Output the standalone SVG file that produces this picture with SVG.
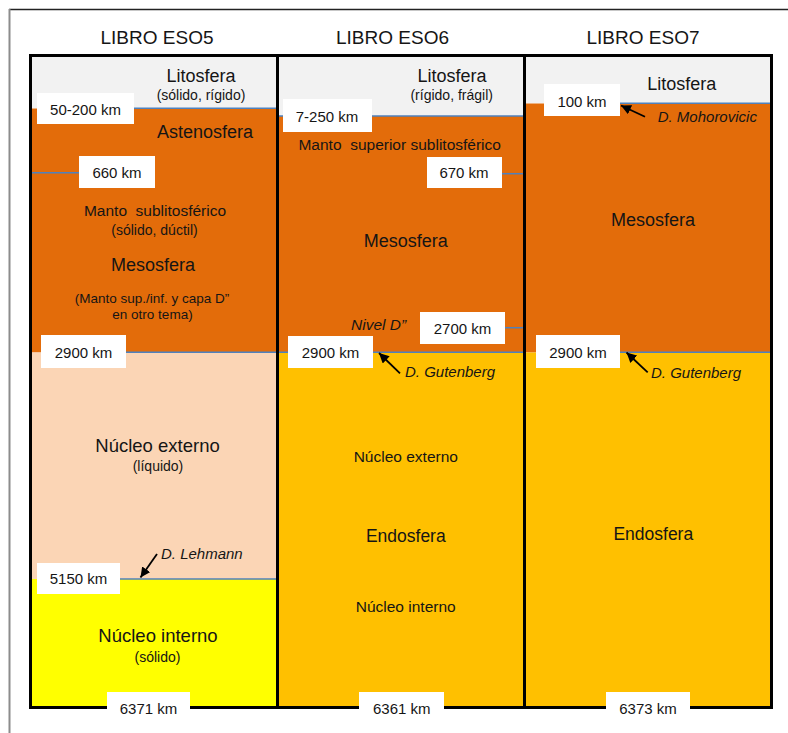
<svg xmlns="http://www.w3.org/2000/svg" width="788" height="733" viewBox="0 0 788 733">
<style>
text{font-family:"Liberation Sans",Arial,sans-serif;fill:#151515;text-anchor:middle}
.h{font-size:19px}
.big{font-size:18px}
.mid{font-size:15.5px}
.sm{font-size:14px}
.xs{font-size:13.5px}
.km{font-size:15px}
.it{font-style:italic;font-size:15px;text-anchor:start}
.grey{fill:#f2f2f2}
.orange{fill:#e36c0a}
.peach{fill:#fbd5b5}
.yellow{fill:#ffff00}
.gold{fill:#ffc000}
.box{fill:#ffffff}
.blue{stroke:#4f81bd;stroke-width:1.5;fill:none}
.arrow{stroke:#000;stroke-width:1.8;fill:none;marker-end:url(#ah)}
.frame{stroke:#000;stroke-width:3;fill:none}
</style>
<defs>
<marker id="ah" markerUnits="userSpaceOnUse" markerWidth="12" markerHeight="10" refX="10" refY="5" orient="auto">
<path d="M0,0 L10,5 L0,10 Z" fill="#000"/>
</marker>
</defs>
<rect width="788" height="733" fill="#ffffff"/>
<line x1="9" y1="9.5" x2="788" y2="9.5" stroke="#222" stroke-width="1.5"/>
<line x1="9.5" y1="9" x2="9.5" y2="733" stroke="#8c8c8c" stroke-width="2"/>

<g id="headers">
<text class="h" x="157" y="44.3">LIBRO ESO5</text>
<text class="h" x="392.5" y="44.3">LIBRO ESO6</text>
<text class="h" x="643" y="44.3">LIBRO ESO7</text>
</g>

<g id="eso5-layers">
<rect class="grey" x="32" y="57" width="245" height="51.5"/>
<rect class="orange" x="32" y="108.5" width="245" height="244"/>
<rect class="peach" x="32" y="352.5" width="245" height="226.5"/>
<rect class="yellow" x="32" y="579" width="245" height="128"/>
</g>
<g id="eso6-layers">
<rect class="grey" x="278" y="57" width="246" height="59"/>
<rect class="orange" x="278" y="116" width="246" height="236.5"/>
<rect class="gold" x="278" y="352.5" width="246" height="354.5"/>
</g>
<g id="eso7-layers">
<rect class="grey" x="525" y="57" width="246" height="46.5"/>
<rect class="orange" x="525" y="103.5" width="246" height="249"/>
<rect class="gold" x="525" y="352.5" width="246" height="354.5"/>
</g>

<g id="boundaries">
<line class="blue" x1="134" y1="108.3" x2="276" y2="108.3"/>
<line class="blue" x1="32" y1="172.7" x2="79" y2="172.7"/>
<line class="blue" x1="126" y1="352.3" x2="276" y2="352.3"/>
<line class="blue" x1="120" y1="579" x2="276" y2="579"/>
<line class="blue" x1="279" y1="116" x2="523" y2="116"/>
<line class="blue" x1="502" y1="173.7" x2="523" y2="173.7"/>
<line class="blue" x1="505" y1="327.7" x2="523" y2="327.7"/>
<line class="blue" x1="279" y1="352.3" x2="523" y2="352.3"/>
<line class="blue" x1="620" y1="103.3" x2="770" y2="103.3"/>
<line class="blue" x1="620" y1="352.3" x2="770" y2="352.3"/>
</g>

<g id="frame">
<rect class="frame" x="30.5" y="55.5" width="741" height="652"/>
<line class="frame" x1="277.5" y1="55.5" x2="277.5" y2="707.5"/>
<line class="frame" x1="524.5" y1="55.5" x2="524.5" y2="707.5"/>
</g>

<g id="eso5-texts">
<text class="big" x="201" y="82">Litosfera</text>
<text class="sm" x="201" y="100">(sólido, rígido)</text>
<text class="big" x="205" y="138.3">Astenosfera</text>
<text class="mid" x="155" y="216" xml:space="preserve">Manto  sublitosférico</text>
<text class="sm" x="154.5" y="235">(sólido, dúctil)</text>
<text class="big" x="153" y="270.7">Mesosfera</text>
<text class="xs" x="152" y="303.3">(Manto sup./inf. y capa D”</text>
<text class="xs" x="152.5" y="319.3">en otro tema)</text>
<text class="big" x="157.5" y="451.7" style="font-size:18.5px">Núcleo externo</text>
<text class="sm" x="158" y="470.7">(líquido)</text>
<text class="it" x="161" y="559.3">D. Lehmann</text>
<text class="big" x="158" y="641.7" style="font-size:18.5px">Núcleo interno</text>
<text class="sm" x="157.5" y="661.7">(sólido)</text>
</g>

<g id="eso6-texts">
<text class="big" x="452" y="81.7">Litosfera</text>
<text class="sm" x="451.7" y="100">(rígido, frágil)</text>
<text class="mid" x="399.7" y="150" xml:space="preserve">Manto  superior sublitosférico</text>
<text class="big" x="405.7" y="246.7">Mesosfera</text>
<text class="it" x="351" y="330" style="font-size:15.5px">Nivel D”</text>
<text class="it" x="405" y="376.7">D. Gutenberg</text>
<text class="mid" x="405.8" y="461.7">Núcleo externo</text>
<text class="big" x="405.8" y="541.7" style="font-size:17.5px">Endosfera</text>
<text class="mid" x="405.7" y="611.7">Núcleo interno</text>
</g>

<g id="eso7-texts">
<text class="big" x="681.7" y="90">Litosfera</text>
<text class="it" x="657.7" y="121.7">D. Mohorovicic</text>
<text class="big" x="653" y="226">Mesosfera</text>
<text class="it" x="651" y="378.3">D. Gutenberg</text>
<text class="big" x="653.3" y="540" style="font-size:17.5px">Endosfera</text>
</g>

<g id="depth-labels">
<g id="l-50-200"><rect class="box" x="37" y="93" width="97" height="31"/><text class="km" x="85.5" y="114.5">50-200 km</text></g>
<g id="l-660"><rect class="box" x="79" y="156" width="76" height="32"/><text class="km" x="117" y="178">660 km</text></g>
<g id="l-2900-a"><rect class="box" x="41" y="335" width="85" height="33"/><text class="km" x="83.5" y="358">2900 km</text></g>
<g id="l-5150"><rect class="box" x="37" y="563" width="83" height="31"/><text class="km" x="78.5" y="584">5150 km</text></g>
<g id="l-6371"><rect class="box" x="107" y="692" width="83" height="28"/><text class="km" x="148.5" y="714">6371 km</text></g>
<g id="l-7-250"><rect class="box" x="283" y="99" width="89" height="33"/><text class="km" x="327" y="121.7">7-250 km</text></g>
<g id="l-670"><rect class="box" x="427" y="157" width="75" height="31"/><text class="km" x="464" y="178.3">670 km</text></g>
<g id="l-2700"><rect class="box" x="420" y="312" width="85" height="32"/><text class="km" x="462.5" y="333.5">2700 km</text></g>
<g id="l-2900-b"><rect class="box" x="288" y="336" width="85" height="32"/><text class="km" x="330.5" y="358">2900 km</text></g>
<g id="l-6361"><rect class="box" x="359" y="692" width="85" height="28"/><text class="km" x="401.8" y="714">6361 km</text></g>
<g id="l-100"><rect class="box" x="544" y="84" width="76" height="32"/><text class="km" x="582" y="106.7">100 km</text></g>
<g id="l-2900-c"><rect class="box" x="536" y="335" width="84" height="33"/><text class="km" x="578" y="358.3">2900 km</text></g>
<g id="l-6373"><rect class="box" x="606" y="692" width="84" height="28"/><text class="km" x="648" y="714">6373 km</text></g>
</g>

<g id="connectors">
<line class="arrow" x1="157" y1="554" x2="140.5" y2="577.5"/>
<line class="arrow" x1="400" y1="373.3" x2="379" y2="353"/>
<line class="arrow" x1="647.7" y1="372.3" x2="626.5" y2="352.5"/>
<line class="arrow" x1="645" y1="116.7" x2="621" y2="105.5"/>
</g>
</svg>
